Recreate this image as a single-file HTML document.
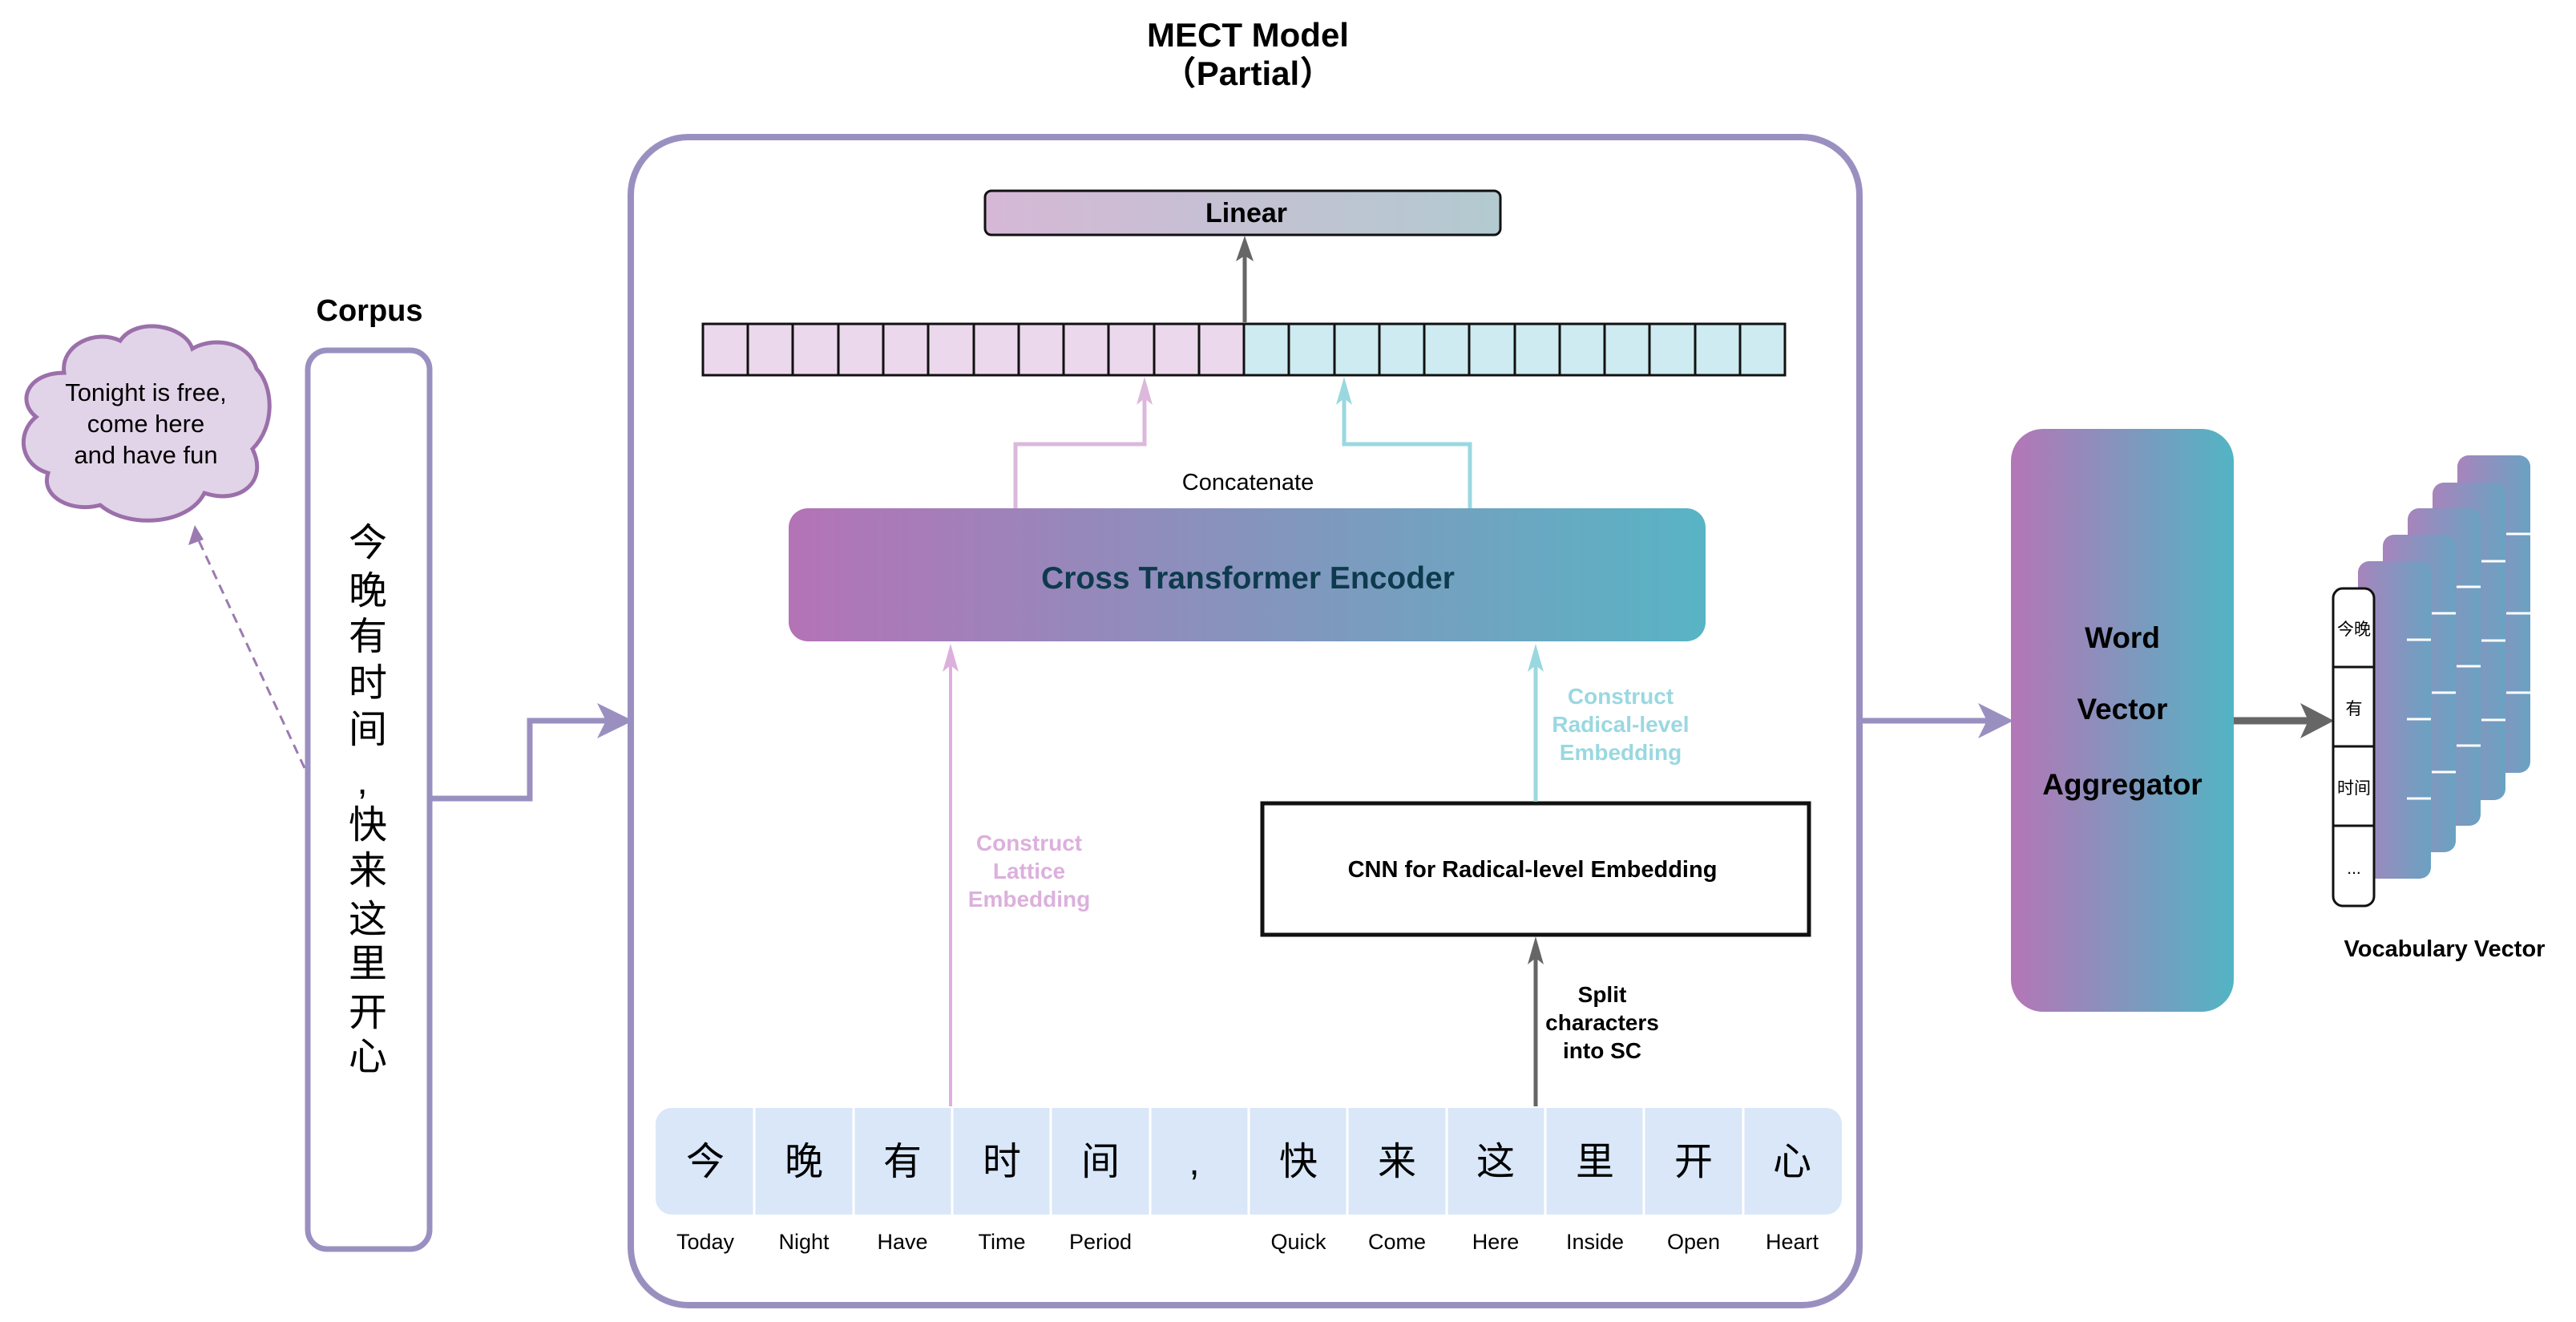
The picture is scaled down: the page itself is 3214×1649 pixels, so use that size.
<!DOCTYPE html>
<html><head><meta charset="utf-8"><style>
html,body{margin:0;padding:0;background:#fff;}
svg{display:block;}
text{font-family:"Liberation Sans","Noto Sans CJK SC",sans-serif;}
</style></head><body>
<svg width="3214" height="1649" viewBox="0 0 3214 1649" xmlns="http://www.w3.org/2000/svg">
<defs>
<linearGradient id="gLin" x1="0" x2="1" y1="0" y2="0"><stop offset="0" stop-color="#d6b8d6"/><stop offset="1" stop-color="#b2cad0"/></linearGradient>
<linearGradient id="gEnc" x1="0" x2="1" y1="0" y2="0"><stop offset="0" stop-color="#b473b6"/><stop offset="1" stop-color="#58b4c4"/></linearGradient>
<linearGradient id="gAgg" x1="0" x2="1" y1="0" y2="0"><stop offset="0" stop-color="#b476b6"/><stop offset="1" stop-color="#52b4c4"/></linearGradient>
<linearGradient id="gCard" x1="0" x2="1" y1="0" y2="0"><stop offset="0" stop-color="#a784bc"/><stop offset="1" stop-color="#6aa2c2"/></linearGradient>
</defs>

<!-- Title -->
<text x="1557" y="58" font-size="42" font-weight="bold" text-anchor="middle">MECT Model</text>
<text x="1557" y="106" font-size="42" font-weight="bold" text-anchor="middle">（Partial）</text>

<!-- Cloud -->
<path d="M80,465 C75,430 120,410 150,425 C170,395 230,405 240,435 C265,420 310,425 320,460 C340,480 345,530 315,560 C335,600 300,630 255,615 C235,655 160,660 125,630 C90,640 50,620 60,590 C25,580 20,540 45,520 C20,500 35,465 80,465 Z" fill="#e2d4e8" stroke="#9b70aa" stroke-width="5"/>
<text font-size="31" text-anchor="middle"><tspan x="182" y="500">Tonight is free,</tspan><tspan x="182" y="539">come here</tspan><tspan x="182" y="578">and have fun</tspan></text>

<!-- dashed arrow -->
<line x1="380" y1="958" x2="246" y2="670" stroke="#9b7ab0" stroke-width="3" stroke-dasharray="12,8"/>
<polygon points="243,655 235,680 254,673" fill="#9b7ab0"/>

<!-- Corpus -->
<text x="461" y="400" font-size="38" font-weight="bold" text-anchor="middle">Corpus</text>
<rect x="384" y="437" width="152" height="1121" rx="24" fill="#fff" stroke="#9a90c0" stroke-width="7"/>
<g font-size="48" text-anchor="middle">
<text x="459" y="693">今</text><text x="459" y="753">晚</text><text x="459" y="810">有</text><text x="459" y="868">时</text><text x="459" y="926">间</text><text x="452" y="990">,</text><text x="459" y="1045">快</text><text x="459" y="1102">来</text><text x="459" y="1163">这</text><text x="459" y="1218">里</text><text x="459" y="1279">开</text><text x="459" y="1334">心</text>
</g>

<!-- corpus -> model connector -->
<polyline points="537,996 661,996 661,899 770,899" fill="none" stroke="#9a90c0" stroke-width="7"/>
<polygon points="790,899 745,877 756,899 745,921" fill="#9a90c0"/>

<!-- Outer model box -->
<rect x="787" y="171" width="1533" height="1457" rx="72" fill="#fff" stroke="#9a90c0" stroke-width="8"/>

<!-- Linear -->
<rect x="1229" y="238" width="643" height="55" rx="8" fill="url(#gLin)" stroke="#111" stroke-width="3"/>
<text x="1555" y="277" font-size="34" font-weight="bold" text-anchor="middle">Linear</text>
<line x1="1553" y1="402" x2="1553" y2="318" stroke="#666" stroke-width="5"/>
<polygon points="1553,294 1542,326 1553,319 1564,326" fill="#666"/>

<!-- vector bar -->
<g stroke="#111" stroke-width="3">
<rect x="877" y="404" width="675" height="64" fill="#ecd8ec"/>
<rect x="1552" y="404" width="675" height="64" fill="#cdebf0"/>
<path d="M933,404V468M989,404V468M1046,404V468M1102,404V468M1158,404V468M1215,404V468M1271,404V468M1327,404V468M1383,404V468M1440,404V468M1496,404V468M1608,404V468M1665,404V468M1721,404V468M1777,404V468M1833,404V468M1890,404V468M1946,404V468M2002,404V468M2058,404V468M2115,404V468M2171,404V468"/>
</g>

<!-- concat arrows -->
<polyline points="1267,634 1267,554 1428,554 1428,490" fill="none" stroke="#dcb8dc" stroke-width="5"/>
<polygon points="1428,470 1418,505 1428,497 1438,505" fill="#dcb8dc"/>
<polyline points="1834,634 1834,554 1677,554 1677,490" fill="none" stroke="#9ad8e0" stroke-width="5"/>
<polygon points="1677,470 1667,505 1677,497 1687,505" fill="#9ad8e0"/>
<text x="1557" y="611" font-size="29" text-anchor="middle">Concatenate</text>

<!-- Encoder -->
<rect x="984" y="634" width="1144" height="166" rx="24" fill="url(#gEnc)"/>
<text x="1557" y="734" font-size="39" font-weight="bold" fill="#0e3a4e" text-anchor="middle">Cross Transformer Encoder</text>

<!-- lattice arrow -->
<line x1="1186" y1="1380" x2="1186" y2="830" stroke="#dcb0dc" stroke-width="4"/>
<polygon points="1186,803 1176,838 1186,830 1196,838" fill="#dcb0dc"/>
<g font-size="28" font-weight="bold" fill="#dcb0dc" text-anchor="middle"><text x="1284" y="1061">Construct</text><text x="1284" y="1096">Lattice</text><text x="1284" y="1131">Embedding</text></g>

<!-- CNN -->
<rect x="1575" y="1002" width="682" height="164" fill="#fff" stroke="#111" stroke-width="5"/>
<text x="1912" y="1094" font-size="29" font-weight="bold" text-anchor="middle">CNN for Radical-level Embedding</text>
<line x1="1916" y1="1000" x2="1916" y2="830" stroke="#9ad8e0" stroke-width="5"/>
<polygon points="1916,803 1906,838 1916,830 1926,838" fill="#9ad8e0"/>
<g font-size="28" font-weight="bold" fill="#9ad8e0" text-anchor="middle"><text x="2022" y="878">Construct</text><text x="2022" y="913">Radical-level</text><text x="2022" y="948">Embedding</text></g>
<line x1="1916" y1="1380" x2="1916" y2="1195" stroke="#666" stroke-width="5"/>
<polygon points="1916,1168 1906,1203 1916,1195 1926,1203" fill="#666"/>
<g font-size="28" font-weight="bold" text-anchor="middle"><text x="1999" y="1250">Split</text><text x="1999" y="1285">characters</text><text x="1999" y="1320">into SC</text></g>

<!-- char row -->
<rect x="818" y="1382" width="1480" height="133" rx="20" fill="#d9e7f8"/>
<g stroke="#fff" stroke-width="3">
<path d="M941,1382V1515M1065,1382V1515M1188,1382V1515M1311,1382V1515M1435,1382V1515M1558,1382V1515M1681,1382V1515M1805,1382V1515M1928,1382V1515M2051,1382V1515M2175,1382V1515"/>
</g>
<g font-size="48" text-anchor="middle">
<text x="880" y="1465">今</text><text x="1003" y="1465">晚</text><text x="1126" y="1465">有</text><text x="1250" y="1465">时</text><text x="1373" y="1465">间</text><text x="1490" y="1465">,</text><text x="1620" y="1465">快</text><text x="1743" y="1465">来</text><text x="1866" y="1465">这</text><text x="1990" y="1465">里</text><text x="2113" y="1465">开</text><text x="2236" y="1465">心</text>
</g>
<g font-size="27" text-anchor="middle">
<text x="880" y="1558">Today</text><text x="1003" y="1558">Night</text><text x="1126" y="1558">Have</text><text x="1250" y="1558">Time</text><text x="1373" y="1558">Period</text><text x="1620" y="1558">Quick</text><text x="1743" y="1558">Come</text><text x="1866" y="1558">Here</text><text x="1990" y="1558">Inside</text><text x="2113" y="1558">Open</text><text x="2236" y="1558">Heart</text>
</g>

<!-- model -> aggregator -->
<line x1="2324" y1="899" x2="2490" y2="899" stroke="#9a90c0" stroke-width="7"/>
<polygon points="2512,899 2468,877 2479,899 2468,921" fill="#9a90c0"/>

<!-- Aggregator -->
<rect x="2509" y="535" width="278" height="727" rx="40" fill="url(#gAgg)"/>
<g font-size="37" font-weight="bold" text-anchor="middle"><text x="2648" y="808">Word</text><text x="2648" y="897">Vector</text><text x="2648" y="991">Aggregator</text></g>

<line x1="2787" y1="899" x2="2885" y2="899" stroke="#666" stroke-width="9"/>
<polygon points="2912,899 2870,877 2880,899 2870,921" fill="#666"/>

<!-- card stack -->
<g>
<rect x="3066" y="568" width="91" height="396" rx="14" fill="url(#gCard)"/>
<path d="M3127,666H3157M3127,765H3157M3127,864H3157" stroke="#fff" stroke-width="3"/>
<rect x="3035" y="602" width="91" height="396" rx="14" fill="url(#gCard)"/>
<path d="M3096,700H3126M3096,799H3126M3096,898H3126" stroke="#fff" stroke-width="3"/>
<rect x="3004" y="634" width="91" height="396" rx="14" fill="url(#gCard)"/>
<path d="M3065,732H3095M3065,831H3095M3065,930H3095" stroke="#fff" stroke-width="3"/>
<rect x="2973" y="667" width="91" height="396" rx="14" fill="url(#gCard)"/>
<path d="M3034,765H3064M3034,864H3064M3034,963H3064" stroke="#fff" stroke-width="3"/>
<rect x="2942" y="700" width="91" height="396" rx="14" fill="url(#gCard)"/>
<path d="M3003,798H3033M3003,897H3033M3003,996H3033" stroke="#fff" stroke-width="3"/>
<rect x="2911" y="734" width="51" height="396" rx="12" fill="#fff" stroke="#111" stroke-width="3"/>
<path d="M2911,832H2962M2911,931H2962M2911,1030H2962" stroke="#111" stroke-width="3"/>
<g font-size="21" text-anchor="middle"><text x="2937" y="792">今晚</text><text x="2937" y="891">有</text><text x="2937" y="990">时间</text><text x="2937" y="1090">...</text></g>
</g>
<text x="3050" y="1193" font-size="29" font-weight="bold" text-anchor="middle">Vocabulary Vector</text>
</svg>
</body></html>
